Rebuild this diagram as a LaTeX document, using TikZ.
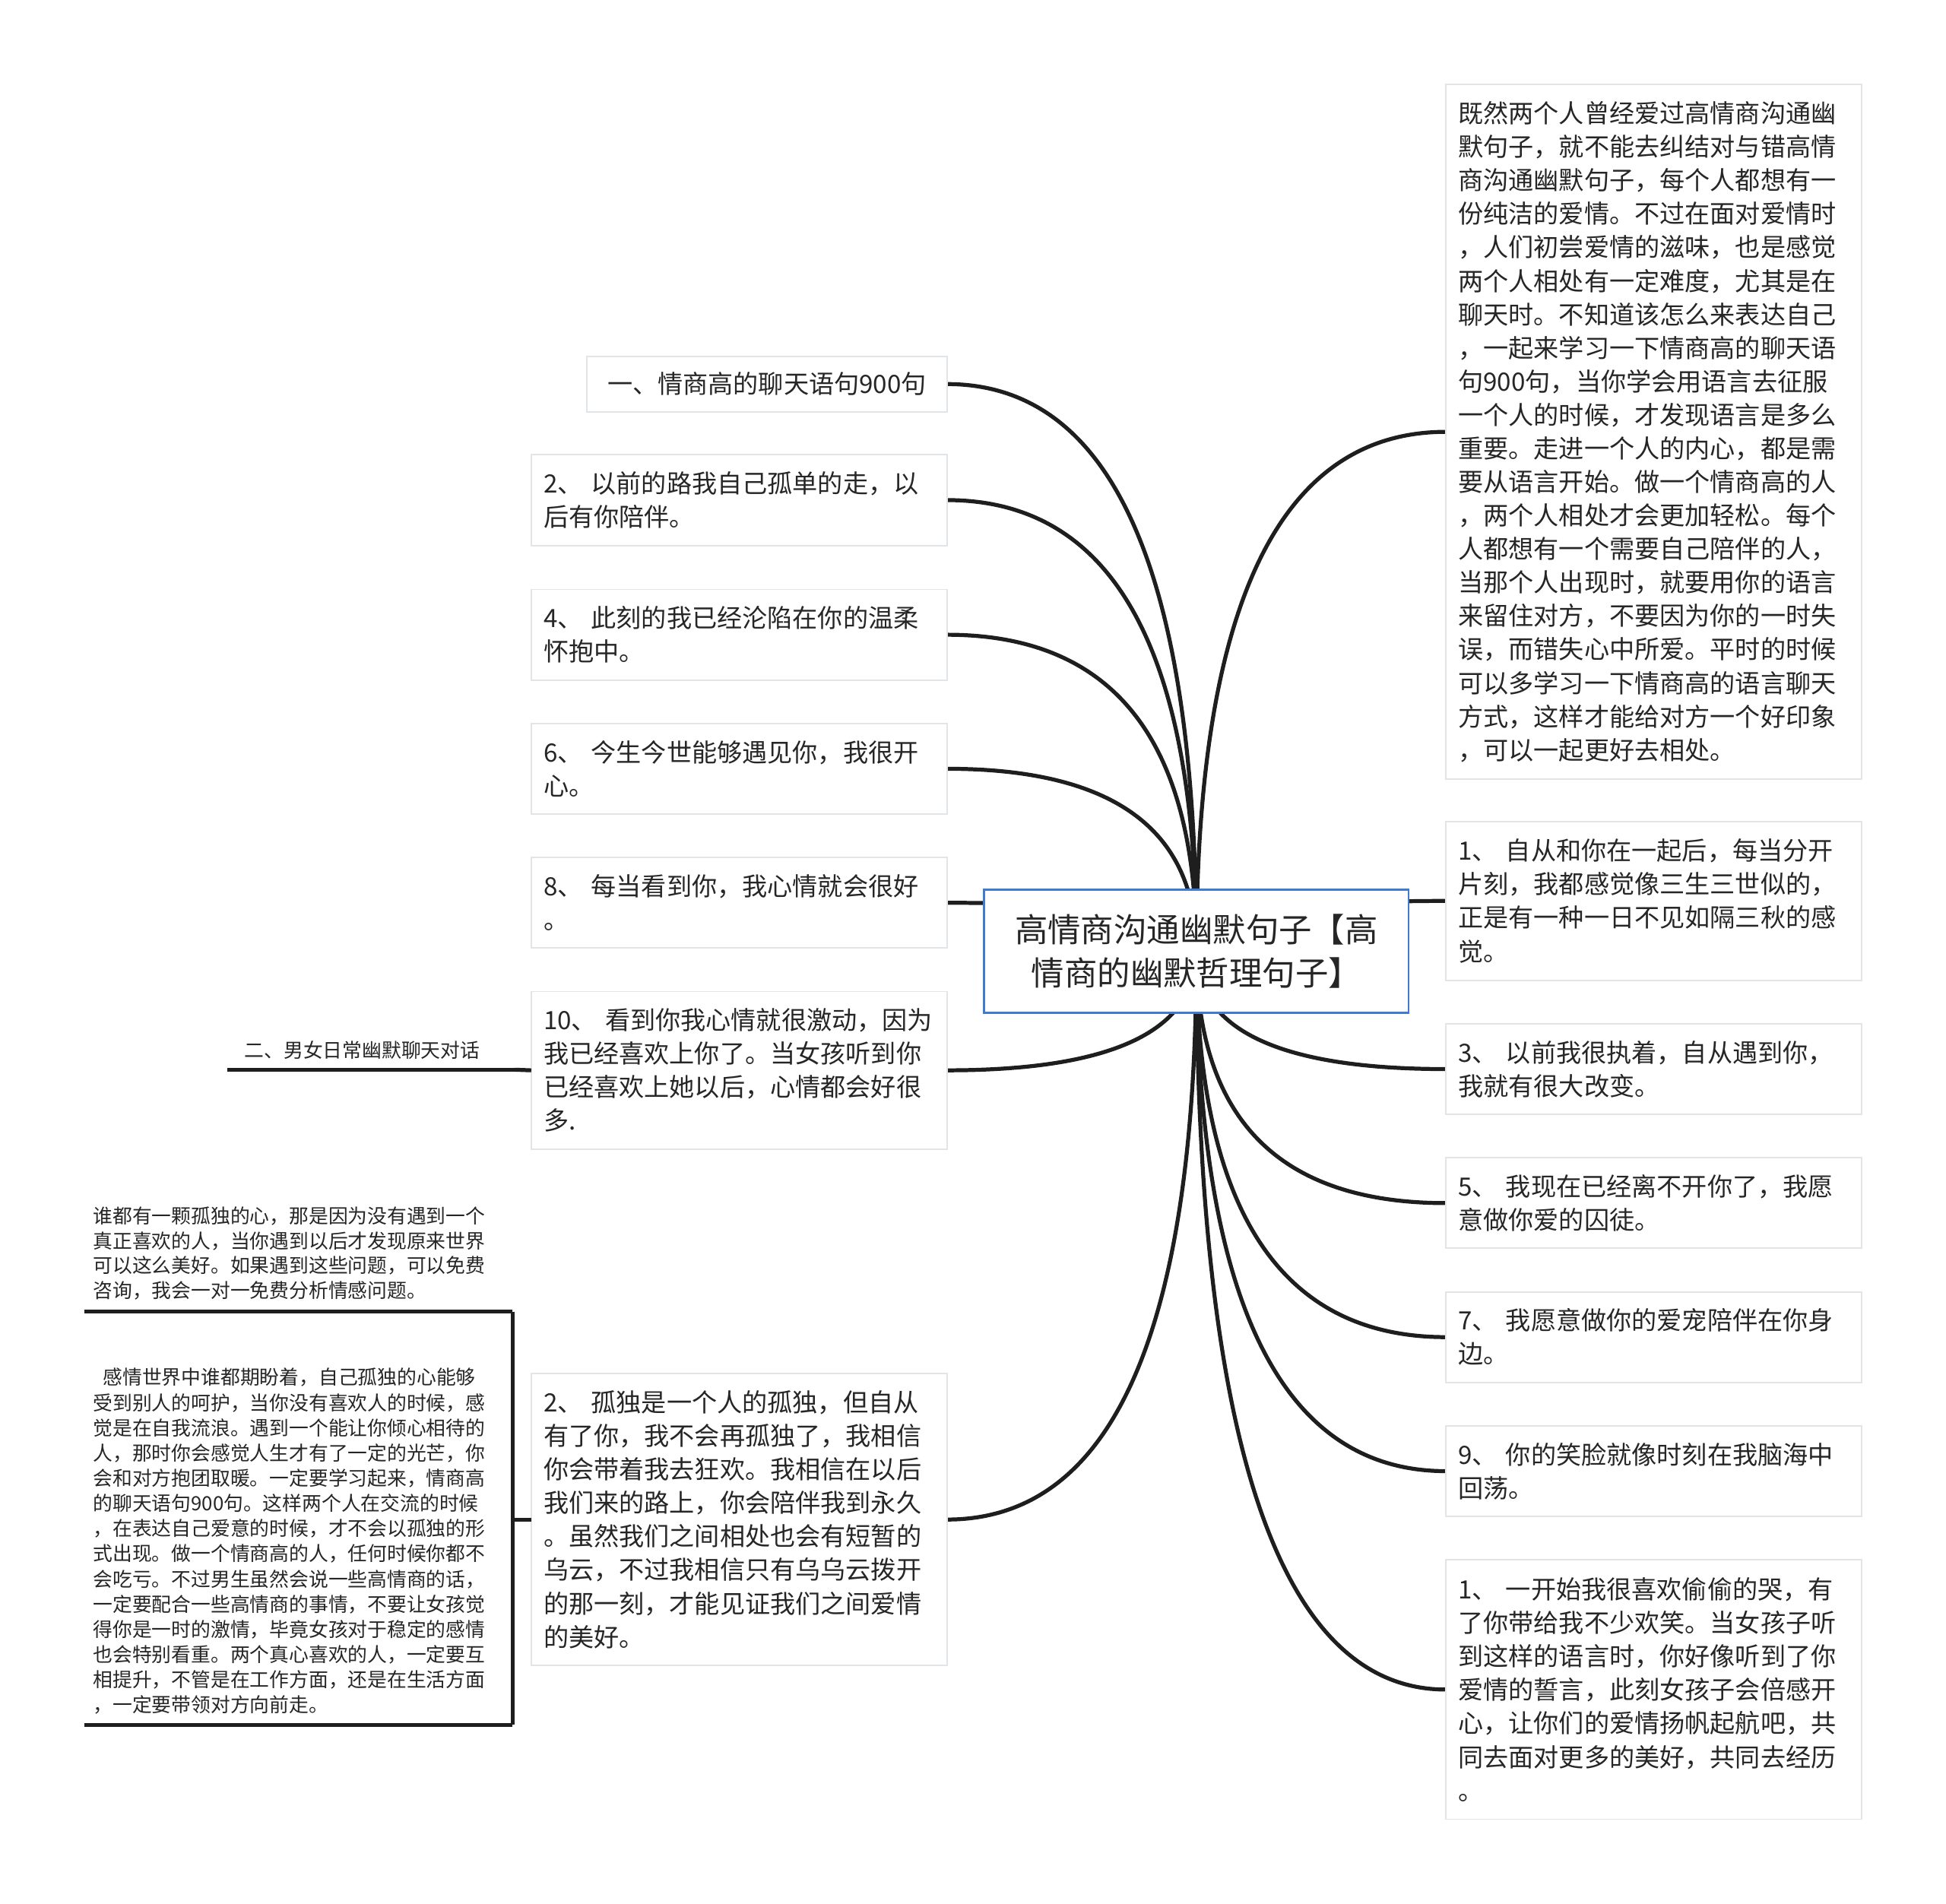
\documentclass[tikz,border=0pt]{standalone}
\usepackage{fontspec}
\setmainfont{Noto Sans CJK SC}
\usetikzlibrary{calc,backgrounds}
\definecolor{txt}{HTML}{262626}
\definecolor{bdr}{HTML}{E2E5E8}
\definecolor{cblue}{HTML}{3F7BD0}
\definecolor{lnk}{HTML}{1E1E1E}
\newcommand{\mmlink}[2]{\draw[conn] (#1) .. controls ($(#1)!0.667!(#1 |- #2)$) and ($(#2)!0.667!(#1 |- #2)$) .. (#2);}
\begin{document}
\begin{tikzpicture}[x=0.5pt,y=-0.5pt,
  every node/.style={text=txt, outer sep=0pt},
  leaf/.style={draw=bdr, line width=0.6pt, fill=white, inner xsep=5pt, inner ysep=0pt,
    minimum width=167.5pt, text width=157.5pt, align=left,
    font=\fontsize{10.15pt}{13.5pt}\selectfont},
  rootbox/.style={draw=cblue, line width=0.8pt, fill=white, minimum width=171pt,
    minimum height=49.5pt, align=center, inner sep=0pt,
    font=\fontsize{13.3pt}{17.5pt}\selectfont},
  small/.style={fill=white, inner xsep=3.5pt, inner ysep=0pt, minimum width=172.5pt,
    text width=165.5pt, align=left},
  conn/.style={draw=lnk, line width=1.6pt},
  uline/.style={draw=lnk, line width=1.4pt}
]
\useasboundingbox (0,0) rectangle (1568,1534);

% central
\node[rootbox] (c) at (964,766.5) {高情商沟通幽默句子【高\\情商的幽默哲理句子】};

% left
\node[leaf, anchor=east, minimum width=145pt, text width=135pt, align=center, minimum height=22.5pt] (l1) at (763,309.5) {一、情商高的聊天语句900句};
\node[leaf, anchor=east, minimum height=37pt] (l2) at (763,403) {2、 以前的路我自己孤单的走，以\\后有你陪伴。};
\node[leaf, anchor=east, minimum height=36.5pt] (l3) at (763,511.5) {4、 此刻的我已经沦陷在你的温柔\\怀抱中。};
\node[leaf, anchor=east, minimum height=36.5pt] (l4) at (763,619.5) {6、 今生今世能够遇见你，我很开\\心。};
\node[leaf, anchor=east, minimum height=36.5pt] (l5) at (763,727.5) {8、 每当看到你，我心情就会很好\\。};
\node[leaf, anchor=east, minimum height=63.5pt] (l6) at (763,862.5) {10、 看到你我心情就很激动，因为\\我已经喜欢上你了。当女孩听到你\\已经喜欢上她以后，心情都会好很\\多.};
\node[leaf, anchor=east, minimum height=117.5pt] (l7) at (763,1224.5) {2、 孤独是一个人的孤独，但自从\\有了你，我不会再孤独了，我相信\\你会带着我去狂欢。我相信在以后\\我们来的路上，你会陪伴我到永久\\。虽然我们之间相处也会有短暂的\\乌云，不过我相信只有乌乌云拨开\\的那一刻，才能见证我们之间爱情\\的美好。};

% right
\node[leaf, anchor=west, minimum height=280pt] (r1) at (1165,348) {既然两个人曾经爱过高情商沟通幽\\默句子，就不能去纠结对与错高情\\商沟通幽默句子，每个人都想有一\\份纯洁的爱情。不过在面对爱情时\\，人们初尝爱情的滋味，也是感觉\\两个人相处有一定难度，尤其是在\\聊天时。不知道该怎么来表达自己\\，一起来学习一下情商高的聊天语\\句900句，当你学会用语言去征服\\一个人的时候，才发现语言是多么\\重要。走进一个人的内心，都是需\\要从语言开始。做一个情商高的人\\，两个人相处才会更加轻松。每个\\人都想有一个需要自己陪伴的人，\\当那个人出现时，就要用你的语言\\来留住对方，不要因为你的一时失\\误，而错失心中所爱。平时的时候\\可以多学习一下情商高的语言聊天\\方式，这样才能给对方一个好印象\\，可以一起更好去相处。};
\node[leaf, anchor=west, minimum height=64pt] (r2) at (1165,726) {1、 自从和你在一起后，每当分开\\片刻，我都感觉像三生三世似的，\\正是有一种一日不见如隔三秋的感\\觉。};
\node[leaf, anchor=west, minimum height=36.5pt] (r3) at (1165,861.5) {3、 以前我很执着，自从遇到你，\\我就有很大改变。};
\node[leaf, anchor=west, minimum height=36.5pt] (r4) at (1165,969.5) {5、 我现在已经离不开你了，我愿\\意做你爱的囚徒。};
\node[leaf, anchor=west, minimum height=36.5pt] (r5) at (1165,1077.5) {7、 我愿意做你的爱宠陪伴在你身\\边。};
\node[leaf, anchor=west, minimum height=36.5pt] (r6) at (1165,1185.5) {9、 你的笑脸就像时刻在我脑海中\\回荡。};
\node[leaf, anchor=west, minimum height=104.5pt] (r7) at (1165,1361.5) {1、 一开始我很喜欢偷偷的哭，有\\了你带给我不少欢笑。当女孩子听\\到这样的语言时，你好像听到了你\\爱情的誓言，此刻女孩子会倍感开\\心，让你们的爱情扬帆起航吧，共\\同去面对更多的美好，共同去经历\\。};

% far-left nodes
\node[small, anchor=south west, minimum width=116pt, text width=102pt, inner xsep=7pt, minimum height=16pt, font=\fontsize{7.9pt}{10pt}\selectfont] (g2) at (183,862) {二、男女日常幽默聊天对话};
\node[small, anchor=south west, minimum height=47pt, font=\fontsize{7.9pt}{10pt}\selectfont] (ga) at (68,1057) {谁都有一颗孤独的心，那是因为没有遇到一个\\真正喜欢的人，当你遇到以后才发现原来世界\\可以这么美好。如果遇到这些问题，可以免费\\咨询，我会一对一免费分析情感问题。};
\node[small, anchor=south west, minimum height=148pt, font=\fontsize{7.9pt}{10.15pt}\selectfont] (gb) at (68,1390) {\hspace*{4pt}感情世界中谁都期盼着，自己孤独的心能够\\受到别人的呵护，当你没有喜欢人的时候，感\\觉是在自我流浪。遇到一个能让你倾心相待的\\人，那时你会感觉人生才有了一定的光芒，你\\会和对方抱团取暖。一定要学习起来，情商高\\的聊天语句900句。这样两个人在交流的时候\\，在表达自己爱意的时候，才不会以孤独的形\\式出现。做一个情商高的人，任何时候你都不\\会吃亏。不过男生虽然会说一些高情商的话，\\一定要配合一些高情商的事情，不要让女孩觉\\得你是一时的激情，毕竟女孩对于稳定的感情\\也会特别看重。两个真心喜欢的人，一定要互\\相提升，不管是在工作方面，还是在生活方面\\，一定要带领对方向前走。};

% underlines
\draw[uline] (g2.south west) -- (g2.south east);
\draw[uline] (ga.south west) -- (ga.south east);
\draw[uline] (gb.south west) -- (gb.south east);

% connectors
\begin{pgfonlayer}{background}
\mmlink{c.center}{l1.east}
\mmlink{c.center}{l2.east}
\mmlink{c.center}{l3.east}
\mmlink{c.center}{l4.east}
\mmlink{c.center}{l5.east}
\mmlink{c.center}{l6.east}
\mmlink{c.center}{l7.east}
\mmlink{c.center}{r1.west}
\mmlink{c.center}{r2.west}
\mmlink{c.center}{r3.west}
\mmlink{c.center}{r4.west}
\mmlink{c.center}{r5.west}
\mmlink{c.center}{r6.west}
\mmlink{c.center}{r7.west}
\end{pgfonlayer}
\draw[conn] (l6.west) -- (g2.south east);
\coordinate (j) at (ga.south east |- l7.west);
\draw[conn] (l7.west) -- (j);
\draw[uline] (ga.south east) -- (gb.south east);
\end{tikzpicture}
\end{document}
